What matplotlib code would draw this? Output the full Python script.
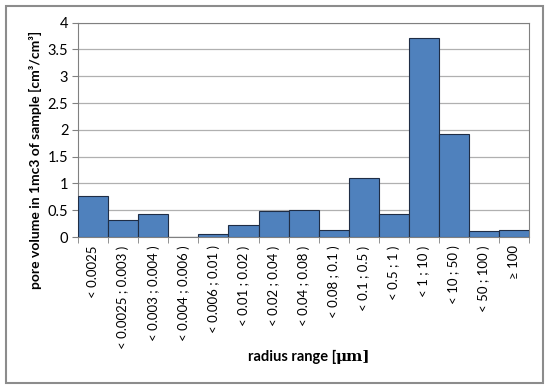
import matplotlib
matplotlib.use("Agg")
import matplotlib.pyplot as plt
from matplotlib.patches import Rectangle
import numpy as np

plt.rcParams['font.family'] = ['Lato', 'DejaVu Sans']

categories = ["< 0.0025", "< 0.0025 ; 0.003 )", "< 0.003 ; 0.004 )",
              "< 0.004 ; 0.006 )", "< 0.006 ; 0.01 )", "< 0.01 ; 0.02 )",
              "< 0.02 ; 0.04 )", "< 0.04 ; 0.08 )", "< 0.08 ; 0.1 )",
              "< 0.1 ; 0.5 )", "< 0.5 ; 1 )", "< 1 ; 10 )", "< 10 ; 50 )",
              "< 50 ; 100 )", "\u2265 100"]
pore_volume = [0.76, 0.32, 0.44, 0.01, 0.05, 0.22, 0.48, 0.50, 0.14,
               1.10, 0.44, 3.72, 1.92, 0.11, 0.14]

fig = plt.figure(figsize=(5.5, 3.9), dpi=100)
ax = fig.add_axes([0.142, 0.392, 0.820, 0.550])

x = np.arange(len(categories))
ax.bar(x, pore_volume, width=1.0, facecolor="#4F81BD", edgecolor="#1F2D45",
       linewidth=0.8, zorder=3)

ax.set_xlim(-0.5, len(categories) - 0.5)
ax.set_ylim(0, 4)
ax.set_yticks(np.arange(0, 4.01, 0.5))
ax.set_yticklabels(["0", "0.5", "1", "1.5", "2", "2.5", "3", "3.5", "4"])
ax.yaxis.grid(True, color="#B0B0B0", linewidth=0.9, zorder=0)

ax.set_xticks(x)
ax.set_xticklabels(categories, rotation=90, fontsize=9.5)
ax.set_xticks(np.arange(-0.5, len(categories), 1.0), minor=True)
ax.tick_params(axis="x", which="major", length=0, pad=6)
ax.tick_params(axis="x", which="minor", length=4, color="#808080", direction="out")
ax.tick_params(axis="y", labelsize=10.5, length=4, color="#808080", pad=3)

for side in ["top", "right", "left", "bottom"]:
    ax.spines[side].set_color("#808080")
    ax.spines[side].set_linewidth(0.8)

fig.text(35 / 550, 1 - 160 / 390, "pore volume in 1mc3 of sample [cm\u00b3/cm\u00b3]",
         fontsize=10, fontweight="bold", rotation=90, ha="center", va="center")
fig.text(0.611, 1 - 357 / 390, "radius range [", fontsize=10.5, fontweight="bold",
         ha="right", va="center")
fig.text(0.611, 1 - 357 / 390, "\u03bcm]", fontsize=11, fontweight="bold",
         family="DejaVu Serif", ha="left", va="center")

fig.patches.append(Rectangle((0.011, 0.018), 0.977, 0.966, transform=fig.transFigure,
                             fill=False, edgecolor="#8C8C8C", linewidth=1.5))

plt.savefig("out.png", dpi=100)
